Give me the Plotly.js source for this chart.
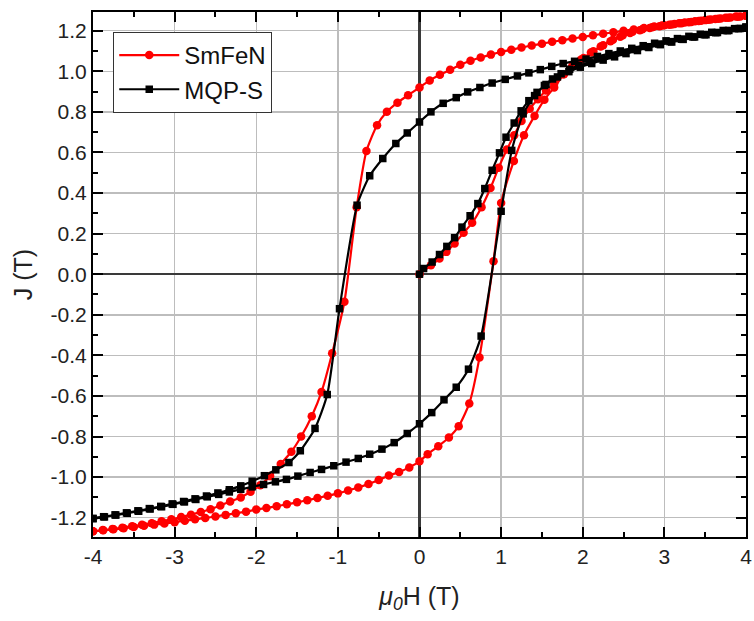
<!DOCTYPE html>
<html>
<head>
<meta charset="utf-8">
<script src="https://cdn.plot.ly/plotly-3.0.1.min.js"></script>
<style>html,body{margin:0;padding:0;background:#fff;}#chart{width:754px;height:621px;}</style>
</head>
<body>
<div id="chart"></div>
<script>
// ---------------- data ----------------
// SmFeN : initial curve (0 -> 4 T)
var smInitH = [0.00,0.14,0.245,0.33,0.43,0.54,0.645,0.76,0.87,0.97,1.07,1.16,1.25,1.35,1.45,1.55,1.65,1.76,1.87,1.98,2.10,2.22,2.34,2.46,2.58,2.70,2.82,2.94,3.06,3.18,3.30,3.42,3.54,3.66,3.78,3.90,4.00];
var smInitJ = [0.000,0.044,0.077,0.110,0.151,0.204,0.253,0.330,0.425,0.525,0.614,0.685,0.755,0.815,0.862,0.905,0.940,0.985,1.025,1.058,1.092,1.122,1.148,1.170,1.188,1.202,1.213,1.222,1.229,1.236,1.242,1.248,1.254,1.259,1.264,1.269,1.273];
// SmFeN : descending branch (4 -> -4 T)
var smDescH = [4.00,3.875,3.75,3.625,3.50,3.375,3.25,3.125,3.00,2.875,2.75,2.625,2.50,2.375,2.25,2.125,2.00,1.875,1.75,1.625,1.50,1.375,1.25,1.125,1.00,0.875,0.75,0.625,0.50,0.375,0.25,0.125,0.00,-0.14,-0.27,-0.40,-0.52,-0.65,-0.77,-0.92,-1.07,-1.20,-1.32,-1.45,-1.57,-1.70,-1.83,-1.95,-2.07,-2.19,-2.32,-2.44,-2.56,-2.68,-2.80,-2.92,-3.04,-3.16,-3.28,-3.40,-3.52,-3.64,-3.76,-3.88,-4.00];
var smDescJ = [1.275,1.270,1.264,1.258,1.252,1.246,1.240,1.233,1.227,1.220,1.213,1.206,1.199,1.192,1.185,1.177,1.169,1.161,1.153,1.145,1.136,1.127,1.117,1.106,1.095,1.082,1.068,1.052,1.032,1.007,0.983,0.955,0.920,0.882,0.845,0.800,0.734,0.607,0.330,-0.136,-0.390,-0.580,-0.700,-0.800,-0.875,-0.935,-0.995,-1.040,-1.072,-1.100,-1.120,-1.140,-1.158,-1.172,-1.185,-1.197,-1.208,-1.218,-1.227,-1.235,-1.242,-1.249,-1.255,-1.261,-1.267];
// SmFeN : ascending branch (-4 -> 4 T)
var smAscH = [-4.00,-3.875,-3.75,-3.625,-3.50,-3.375,-3.25,-3.125,-3.00,-2.875,-2.75,-2.625,-2.50,-2.375,-2.25,-2.125,-2.00,-1.875,-1.75,-1.625,-1.50,-1.375,-1.25,-1.125,-1.00,-0.875,-0.75,-0.625,-0.50,-0.375,-0.25,-0.125,0.00,0.10,0.23,0.36,0.48,0.61,0.735,0.907,1.00,1.156,1.28,1.41,1.53,1.65,1.77,1.89,2.01,2.13,2.25,2.37,2.49,2.61,2.73,2.85,2.97,3.09,3.21,3.33,3.45,3.57,3.69,3.81,3.93,4.00];
var smAscJ = [-1.267,-1.262,-1.257,-1.252,-1.246,-1.240,-1.234,-1.228,-1.222,-1.215,-1.208,-1.201,-1.194,-1.186,-1.178,-1.170,-1.160,-1.152,-1.143,-1.134,-1.124,-1.114,-1.103,-1.092,-1.080,-1.066,-1.051,-1.034,-1.014,-0.992,-0.975,-0.952,-0.922,-0.887,-0.848,-0.805,-0.749,-0.637,-0.410,0.064,0.351,0.558,0.685,0.780,0.860,0.920,0.985,1.030,1.065,1.098,1.128,1.155,1.178,1.195,1.207,1.217,1.225,1.231,1.237,1.243,1.249,1.255,1.260,1.265,1.270,1.273];

// MQP-S : initial curve (0 -> 4 T)
var mqInitH = [0.00,0.05,0.155,0.245,0.335,0.43,0.52,0.62,0.715,0.80,0.89,0.98,1.06,1.16,1.245,1.34,1.44,1.53,1.63,1.735,1.84,1.95,2.09,2.23,2.37,2.51,2.65,2.79,2.93,3.07,3.21,3.35,3.49,3.63,3.77,3.91,4.00];
var mqInitJ = [0.000,0.028,0.060,0.097,0.137,0.180,0.232,0.288,0.348,0.422,0.512,0.598,0.675,0.745,0.805,0.855,0.896,0.930,0.962,0.988,1.010,1.028,1.045,1.062,1.078,1.093,1.107,1.121,1.134,1.146,1.158,1.169,1.180,1.190,1.200,1.210,1.216];
// MQP-S : descending branch (4 -> -4 T)
var mqDescH = [4.00,3.86,3.72,3.58,3.44,3.30,3.16,3.02,2.88,2.74,2.60,2.46,2.32,2.18,2.04,1.90,1.76,1.62,1.48,1.34,1.20,1.05,0.89,0.74,0.59,0.45,0.29,0.14,0.00,-0.15,-0.29,-0.45,-0.61,-0.765,-0.98,-1.13,-1.28,-1.46,-1.60,-1.76,-1.90,-2.05,-2.19,-2.33,-2.47,-2.61,-2.75,-2.89,-3.03,-3.17,-3.31,-3.45,-3.59,-3.73,-3.87,-4.00];
var mqDescJ = [1.218,1.210,1.201,1.192,1.182,1.172,1.161,1.150,1.138,1.126,1.113,1.100,1.087,1.073,1.060,1.049,1.038,1.024,1.008,0.992,0.977,0.960,0.942,0.920,0.898,0.870,0.842,0.800,0.750,0.696,0.644,0.570,0.485,0.340,-0.170,-0.593,-0.760,-0.870,-0.928,-0.964,-0.993,-1.020,-1.043,-1.062,-1.078,-1.093,-1.107,-1.120,-1.132,-1.144,-1.155,-1.166,-1.176,-1.186,-1.195,-1.203];
// MQP-S : ascending branch (-4 -> 4 T)
var mqAscH = [-4.00,-3.86,-3.72,-3.58,-3.44,-3.30,-3.16,-3.02,-2.88,-2.74,-2.60,-2.46,-2.33,-2.19,-2.05,-1.91,-1.765,-1.63,-1.49,-1.34,-1.20,-1.05,-0.90,-0.75,-0.61,-0.46,-0.31,-0.15,0.00,0.15,0.30,0.45,0.60,0.755,1.00,1.13,1.27,1.41,1.55,1.69,1.83,1.97,2.11,2.25,2.39,2.53,2.67,2.81,2.95,3.09,3.23,3.37,3.51,3.65,3.79,3.93,4.00];
var mqAscJ = [-1.205,-1.196,-1.187,-1.178,-1.168,-1.157,-1.146,-1.134,-1.122,-1.110,-1.097,-1.085,-1.073,-1.060,-1.048,-1.036,-1.023,-1.011,-0.995,-0.977,-0.962,-0.944,-0.926,-0.908,-0.887,-0.862,-0.830,-0.785,-0.737,-0.682,-0.619,-0.557,-0.468,-0.305,0.310,0.610,0.790,0.880,0.935,0.972,0.998,1.020,1.038,1.055,1.071,1.087,1.102,1.117,1.131,1.144,1.157,1.169,1.180,1.191,1.201,1.211,1.216];

// axis ticks
var xTickVals = [-4,-3,-2,-1,0,1,2,3,4];
var xTickText = ['-4','-3','-2','-1','0','1','2','3','4'];
var yTickVals = [-1.2,-1.0,-0.8,-0.6,-0.4,-0.2,0.0,0.2,0.4,0.6,0.8,1.0,1.2];
var yTickText = ['-1.2','-1.0','-0.8','-0.6','-0.4','-0.2','0.0','0.2','0.4','0.6','0.8','1.0','1.2'];

var seriesNames = ['SmFeN','MQP-S'];

// ---------------- build traces ----------------
var smH = smInitH.concat(smDescH, smAscH);
var smJ = smInitJ.concat(smDescJ, smAscJ);
var mqH = mqInitH.concat(mqDescH, mqAscH);
var mqJ = mqInitJ.concat(mqDescJ, mqAscJ);

var traces = [
  {x: smH, y: smJ, name: seriesNames[0], type: 'scatter', mode: 'lines+markers',
   line: {color: '#ff0000', width: 2.2, shape: 'spline', smoothing: 0.6},
   marker: {symbol: 'circle', size: 8.5, color: '#ff0000', line: {width: 0}}},
  {x: mqH, y: mqJ, name: seriesNames[1], type: 'scatter', mode: 'lines+markers',
   line: {color: '#000000', width: 2.2, shape: 'spline', smoothing: 0.6},
   marker: {symbol: 'square', size: 7.5, color: '#000000', line: {width: 0}}}
];

function makeAxis(range, vals, text, minorStep, title, standoff) {
  return {
    range: range, tickmode: 'array', tickvals: vals, ticktext: text,
    ticks: 'inside', ticklen: 10, tickwidth: 2, tickcolor: '#000',
    showline: true, linecolor: '#000', linewidth: 2, mirror: 'ticks',
    minor: {tickmode: 'linear', tick0: 0, dtick: minorStep, ticks: 'inside', ticklen: 5, tickwidth: 2, tickcolor: '#000', showgrid: false},
    showgrid: true, gridcolor: '#bdbdbd', gridwidth: 1.5,
    zeroline: true, zerolinecolor: '#3a3a3a', zerolinewidth: 2.5,
    tickfont: {family: 'Liberation Sans, Arial, sans-serif', size: 21, color: '#222'},
    title: {text: title, font: {size: 25, color: '#222'}, standoff: standoff}
  };
}

var layout = {
  width: 754, height: 621,
  margin: {l: 93, r: 8, t: 12, b: 84},
  paper_bgcolor: '#ffffff', plot_bgcolor: '#ffffff',
  font: {family: 'Liberation Sans, Arial, sans-serif', color: '#222'},
  showlegend: true,
  legend: {x: 0.031, y: 0.962, xanchor: 'left', yanchor: 'top',
           bgcolor: '#ffffff', bordercolor: '#333', borderwidth: 1,
           font: {size: 24, color: '#111'}, itemwidth: 60, tracegroupgap: 0},
  xaxis: makeAxis([-4, 4], xTickVals, xTickText, 0.5, '<i>μ</i><sub><i>0</i></sub>H (T)', 20),
  yaxis: makeAxis([-1.295, 1.292], yTickVals, yTickText, 0.1, 'J (T)', 11)
};

Plotly.newPlot('chart', traces, layout, {displayModeBar: false, staticPlot: true});
</script>
</body>
</html>
